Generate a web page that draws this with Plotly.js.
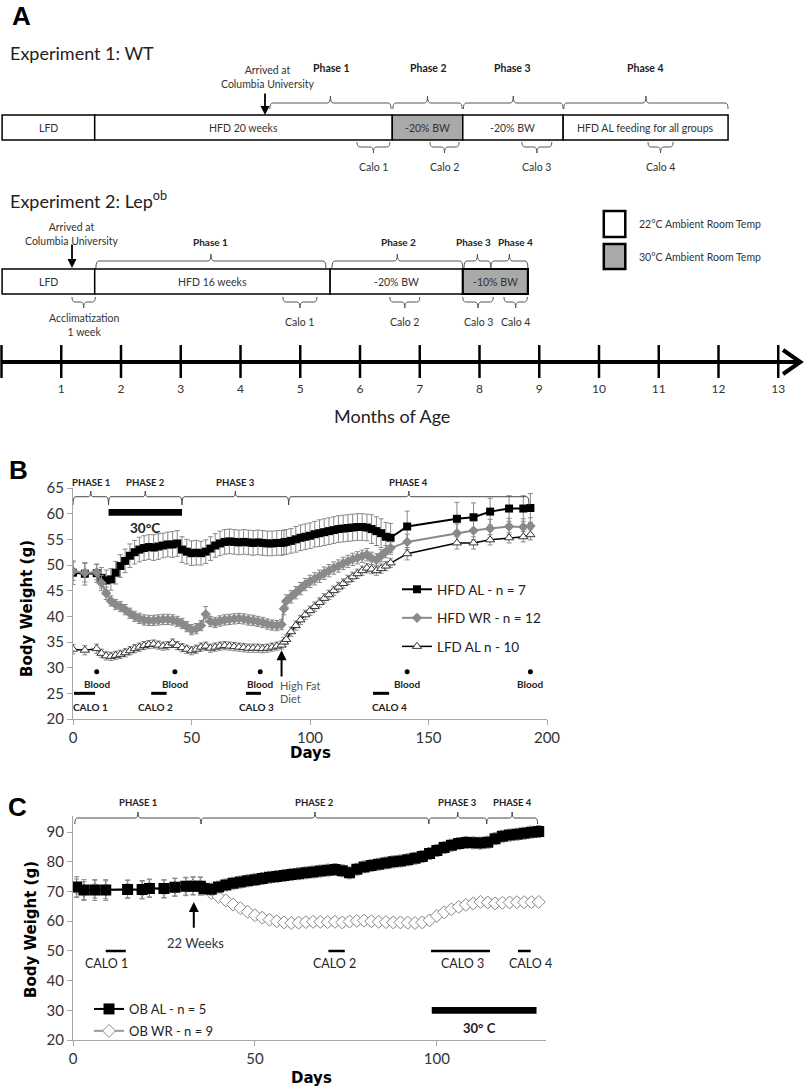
<!DOCTYPE html>
<html><head><meta charset="utf-8">
<script src="https://cdn.plot.ly/plotly-3.0.1.min.js"></script>
<style>html,body{margin:0;padding:0;background:#fff}#chart{width:805px;height:1088px}</style>
</head><body><div id="chart"></div>
<script>
// ===================== DATA =====================
// Panel A timeline (months of age)
const monthTicks  = [0,1,2,3,4,5,6,7,8,9,10,11,12,13];
const monthLabels = ['','1','2','3','4','5','6','7','8','9','10','11','12','13'];

const exp1Start  = [0.01, 1.56, 6.54, 7.72, 9.40];
const exp1End    = [1.56, 6.54, 7.72, 9.40, 12.16];
const exp1Label  = ['LFD','HFD 20 weeks','-20% BW','-20% BW','HFD AL feeding for all groups'];
const exp1Warm   = [0,0,1,0,0];
const exp1PhStart= [4.49, 6.55, 7.73, 9.41];
const exp1PhEnd  = [6.52, 7.71, 9.40, 12.16];
const exp1PhLabel= ['Phase 1','Phase 2','Phase 3','Phase 4'];
const exp1PhText = [5.53, 7.14, 8.56, 10.77];
const exp1CaStart= [5.95, 7.17, 8.71, 10.82];
const exp1CaEnd  = [6.50, 7.66, 9.21, 11.24];
const exp1CaLabel= ['Calo 1','Calo 2','Calo 3','Calo 4'];
const exp1Arrive = 4.41;

const exp2Start  = [0.01, 1.56, 5.50, 7.72];
const exp2End    = [1.56, 5.50, 7.72, 8.81];
const exp2Label  = ['LFD','HFD 16 weeks','-20% BW','-10% BW'];
const exp2Warm   = [0,0,0,1];
const exp2PhStart= [1.58, 5.53, 7.74, 8.19];
const exp2PhEnd  = [5.43, 7.72, 8.19, 8.81];
const exp2PhLabel= ['Phase 1','Phase 2','Phase 3','Phase 4'];
const exp2PhText = [3.49, 6.64, 7.90, 8.60];
const exp2CaStart= [1.18, 4.71, 6.50, 7.72, 8.41];
const exp2CaEnd  = [1.57, 5.28, 7.00, 8.23, 8.80];
const exp2CaLabel= ['Acclimatization<br>1 week','Calo 1','Calo 2','Calo 3','Calo 4'];
const exp2Arrive = 1.18;

// Panel B (days)
const daysB = [0,5,10,12,14,16,18,20,22,24,26,28,30,32,34,36,38,40,42,44,46,48,50,52,54,56,58,60,62,64,66,68,70,72,74,76,78,80,82,84,86,88,89,90,92,94,96,98,100,102,104,106,108,110,112,114,116,118,120,122,124,126,128,130,132,134,141,162,169,176,184,190,193];
const hfdAL = [48.5,48.3,48.4,
  47.5,47.0,47.2,48.5,49.8,50.8,51.8,52.5,53.0,53.3,
  53.5,53.4,53.6,53.8,54.0,54.0,54.2,53.0,52.6,52.3,
  52.4,52.3,52.6,53.2,53.8,54.2,54.5,54.6,54.5,54.4,
  54.5,54.4,54.3,54.4,54.3,54.2,54.2,54.3,54.3,
  54.4,54.5,54.7,55.0,55.3,55.5,55.7,56.0,56.2,56.4,56.6,56.8,57.0,57.1,57.2,57.3,57.4,57.4,57.3,57.0,56.6,56.2,55.5,55.3,
  57.5,59.0,59.3,60.4,61.0,61.0,61.1];
const hfdALerr = [2.3,2.2,1.8,
  2.0,2.0,2.1,2.2,2.2,2.3,2.3,2.3,2.4,2.4,
  2.4,2.5,2.5,2.4,2.4,2.5,2.5,2.5,2.4,2.4,
  2.4,2.3,2.3,2.3,2.3,2.4,2.4,2.4,2.4,2.4,
  2.4,2.4,2.4,2.4,2.4,2.4,2.4,2.4,2.4,
  2.4,2.4,2.4,2.5,2.5,2.5,2.5,2.5,2.6,2.6,2.6,2.6,2.6,2.6,2.6,2.6,2.6,2.6,2.6,2.8,2.8,2.8,2.8,2.8,
  3.0,3.2,2.8,2.6,2.5,2.5,2.8];
const hfdWR = [48.8,48.5,48.6,
  46.5,44.5,43.0,42.3,41.9,41.3,40.6,40.0,39.6,39.3,
  39.2,39.2,39.3,39.4,39.4,39.3,39.0,38.6,38.0,37.4,
  37.6,38.2,40.4,39.0,38.8,39.1,39.3,39.4,39.5,39.6,
  39.5,39.3,39.2,39.0,38.8,38.5,38.3,38.2,38.4,
  41.5,43.0,43.8,44.6,45.4,46.2,46.8,47.3,47.8,48.4,48.9,49.4,49.8,50.3,50.7,51.1,51.4,51.7,52.0,51.3,51.0,51.8,52.6,53.3,
  54.5,56.2,56.7,57.1,57.5,57.4,57.6];
const hfdWRerr = [1.8,1.8,1.5,
  1.5,1.2,1.0,1.0,1.0,1.0,1.0,1.0,1.0,1.0,
  1.0,1.0,1.0,1.0,1.0,1.0,1.0,1.0,1.0,1.0,
  1.0,1.0,1.5,1.0,1.0,1.0,1.0,1.0,1.0,1.0,
  1.0,1.0,1.0,1.0,1.0,1.0,1.0,1.0,1.0,
  1.2,1.2,1.2,1.2,1.2,1.2,1.2,1.2,1.2,1.2,1.2,1.2,1.2,1.2,1.2,1.2,1.2,1.2,1.2,1.2,1.2,1.2,1.2,1.2,
  1.5,1.8,1.8,1.8,1.6,1.6,1.6];
const lfdAL = [33.6,33.4,33.7,
  32.8,32.3,32.2,32.4,32.6,32.9,33.3,33.7,34.0,34.3,
  34.5,34.6,34.4,34.2,34.3,34.8,34.3,33.9,33.6,33.3,
  33.6,34.0,34.2,33.8,34.0,34.2,34.3,34.2,34.1,34.0,
  33.9,33.8,33.8,33.8,33.7,33.8,34.0,34.2,34.4,
  35.0,35.5,37.0,38.2,39.3,40.3,41.1,41.9,42.7,43.5,44.2,45.0,45.7,46.4,47.1,47.7,48.3,48.9,49.4,49.2,48.9,49.3,49.8,50.4,
  52.2,54.3,54.3,54.9,55.3,55.5,55.9];
const lfdALerr = [0.9,0.9,0.9,
  0.8,0.8,0.8,0.8,0.8,0.8,0.8,0.8,0.8,0.8,
  0.8,0.8,0.8,0.8,0.8,0.8,0.8,0.8,0.8,0.8,
  0.8,0.8,0.8,0.8,0.8,0.8,0.8,0.8,0.8,0.8,
  0.8,0.8,0.8,0.8,0.8,0.8,0.8,0.8,0.8,
  0.9,0.9,0.9,0.9,0.9,0.9,0.9,0.9,0.9,0.9,0.9,0.9,0.9,0.9,0.9,0.9,0.9,0.9,0.9,0.9,0.9,0.9,0.9,0.9,
  1.2,1.2,1.2,1.0,1.0,1.0,1.0];
const phaseBBounds = [0, 15, 46, 91, 192.4];
const phaseBLabels = ['PHASE 1','PHASE 2','PHASE 3','PHASE 4'];
const warmB = [15, 46];
const bloodDays = [10, 43, 79, 141, 193];
const bloodY    = [29.2, 29.2, 29.2, 29.2, 29.2];
const caloBStart = [0.4, 33, 73, 126.6];
const caloBEnd   = [9.3, 39.5, 79.3, 133.4];
const caloBText  = [7.4, 34.8, 77.6, 133.5];
const caloBLabel = ['CALO 1','CALO 2','CALO 3','CALO 4'];
const hfdSwitchDay = 88;

// Panel C (days)
const daysC = [1,3,6,9,15,19,21,25,28,31,33,35,36,38,40,42,44,46,48,50,52,54,56,58,60,62,64,66,68,70,72,74,76,78,80,82,84,86,88,90,92,94,96,98,100,102,104,106,108,110,112,114,116,118,120,122,124,126,128];
const obAL = [71.5,70.5,70.5,70.5,70.7,70.7,71.0,71.0,71.4,71.8,71.8,71.8,
  71.0,70.8,71.5,72.2,72.8,73.2,73.6,74.0,74.4,74.8,
  75.1,75.4,75.7,76.0,76.3,76.6,76.9,77.2,77.4,77.0,
  76.3,77.5,78.3,78.8,79.2,79.6,80.0,80.3,80.7,81.2,
  81.8,82.8,83.8,84.8,85.6,86.2,86.5,86.4,86.3,86.6,
  87.8,88.6,89.0,89.3,89.6,90.0,90.2];
const obALerr = [3.5,3.5,3.5,3.5,3.0,3.0,3.0,3.0,3.0,3.0,3.0,3.0,
  2.0,2.0,2.0,2.0,2.0,2.0,2.0,2.0,2.0,2.0,
  2.0,2.0,2.0,2.0,2.0,2.0,2.0,2.0,2.0,2.0,
  2.0,2.0,2.0,2.0,2.0,2.0,2.0,2.0,2.0,2.0,
  2.0,2.0,2.0,2.0,2.0,2.0,2.0,2.0,2.0,2.0,
  2.0,2.0,2.0,2.0,2.0,2.0,2.0];
const obWR = [71.2,70.3,70.8,70.6,70.9,70.5,71.2,70.8,71.5,71.6,72.0,71.9,
  70.8,69.5,68.2,67.0,65.6,64.4,63.2,62.0,61.2,60.5,
  60.0,59.6,59.4,59.5,59.7,59.8,59.8,59.7,59.8,59.6,
  59.9,60.1,60.2,60.0,59.8,59.7,59.6,59.6,59.5,59.4,
  59.6,60.3,61.8,63.0,64.0,64.8,65.5,66.0,66.5,66.3,
  66.0,66.2,66.3,66.4,66.4,66.4,66.5];
const obWRerr = [3.0,3.0,3.0,3.0,3.0,3.0,3.0,3.0,3.0,3.0,3.0,3.0,
  1.5,1.5,1.5,1.5,1.5,1.5,1.5,1.5,1.5,1.5,
  1.5,1.5,1.5,1.5,1.5,1.5,1.5,1.5,1.5,1.5,
  1.5,1.5,1.5,1.5,1.5,1.5,1.5,1.5,1.5,1.5,
  1.5,1.5,1.5,1.5,1.5,1.5,1.5,1.5,1.5,1.5,
  1.5,1.5,1.5,1.5,1.5,1.5,1.5];
const phaseCBounds = [0.5, 35.2, 97.8, 113.7, 127.7];
const phaseCLabels = ['PHASE 1','PHASE 2','PHASE 3','PHASE 4'];
const warmC = [98.6, 127.4];
const caloCStart = [9, 70.2, 98.4, 122.3];
const caloCEnd   = [14.5, 74.7, 114.6, 125.8];
const caloCText  = [9.3, 72, 107, 125.8];
const caloCLabel = ['CALO 1','CALO 2','CALO 3','CALO 4'];
const weeks22Day = 33.2;

// ===================== LAYOUT =====================
const W = 805, H = 1088;
const LATO = 'Lato, "Open Sans", sans-serif';
const DJV = '"DejaVu Sans", Verdana, sans-serif';
const ARL = '"Liberation Sans", Arial, sans-serif';
const py = p => 1 - p / H;            // pixel row -> paper
const mL = -1.5 / 59.75, mR = (W - 1.5) / 59.75;

const shapes = [], ann = [];
function txt(text, x, y, xref, yref, size, o) {
  o = o || {};
  ann.push({text, x, y, xref, yref, showarrow: false, textangle: o.angle || 0,
    font: {family: o.family || LATO, size, color: o.color || '#222'},
    xanchor: o.xanchor || 'center', yanchor: o.yanchor || 'middle', align: o.align || 'center'});
}
function brace(xref, yref, x0, x1, yl, yEnd, yTip, e, color, width) {
  const m = (x0 + x1) / 2;
  const p = `M${x0},${yEnd} Q${x0},${yl} ${x0 + e},${yl} L${m - e},${yl} Q${m},${yl} ${m},${yTip} ` +
            `Q${m},${yl} ${m + e},${yl} L${x1 - e},${yl} Q${x1},${yl} ${x1},${yEnd}`;
  shapes.push({type: 'path', xref, yref, path: p, line: {color, width}});
}
function arrow(xref, yref, x, yTip, yTail, w) {
  ann.push({text: '', x, y: yTip, ax: x, ay: yTail, xref, yref, axref: xref, ayref: yref,
    showarrow: true, arrowhead: 2, arrowsize: 1, arrowwidth: w, arrowcolor: '#000', standoff: 0});
}

// ---- Panel A ----
txt('<b>A</b>', 10 / W, 16, 'paper', 'y3', 26, {family: ARL, color: '#000', xanchor: 'left'});
txt('Experiment 1: WT', 8 / W, 53, 'paper', 'y3', 18, {xanchor: 'left'});
txt('Experiment 2: Lep<sup>ob</sup>', 8 / W, 200, 'paper', 'y3', 18, {xanchor: 'left'});

function drawExp(starts, ends, labels, warm, yTop, yBot, gw) {
  starts.forEach((s, i) => {
    shapes.push({type: 'rect', xref: 'x3', yref: 'y3', x0: s, x1: ends[i], y0: yTop, y1: yBot,
      fillcolor: warm[i] ? '#a9a9a9' : '#fff', line: {color: '#000', width: warm[i] ? gw : 1.5}});
    txt(labels[i], (s + ends[i]) / 2, (yTop + yBot) / 2, 'x3', 'y3', 10.5, {color: '#333'});
  });
}
drawExp(exp1Start, exp1End, exp1Label, exp1Warm, 115, 140, 1.5);
drawExp(exp2Start, exp2End, exp2Label, exp2Warm, 269, 294, 2.2);

exp1PhStart.forEach((s, i) => {
  brace('x3', 'y3', s, exp1PhEnd[i], 103, 109, 96, 0.05, '#555', 1);
  txt('<b>' + exp1PhLabel[i] + '</b>', exp1PhText[i], 68, 'x3', 'y3', 10.5);
});
exp2PhStart.forEach((s, i) => {
  brace('x3', 'y3', s, exp2PhEnd[i], 261, 268, 254, 0.05, '#555', 1);
  txt('<b>' + exp2PhLabel[i] + '</b>', exp2PhText[i], 242, 'x3', 'y3', 10);
});
exp1CaStart.forEach((s, i) => {
  brace('x3', 'y3', s, exp1CaEnd[i], 147, 142, 153, 0.05, '#555', 1);
  txt(exp1CaLabel[i], (s + exp1CaEnd[i]) / 2, 167, 'x3', 'y3', 10.5, {color: '#333'});
});
exp2CaStart.forEach((s, i) => {
  brace('x3', 'y3', s, exp2CaEnd[i], 302, 297, 308, 0.05, '#555', 1);
  txt(exp2CaLabel[i], (s + exp2CaEnd[i]) / 2, i === 0 ? 324.5 : 322, 'x3', 'y3', 10.5, {color: '#333'});
});
arrow('x3', 'y3', exp1Arrive, 115, 92, 1.8);
txt('Arrived at<br>Columbia University', exp1Arrive + 0.05, 76.5, 'x3', 'y3', 10.5, {color: '#333'});
arrow('x3', 'y3', exp2Arrive, 268, 243, 1.8);
txt('Arrived at<br>Columbia University', exp2Arrive, 233.5, 'x3', 'y3', 10.5, {color: '#333'});

// legend boxes (ambient temperature)
shapes.push({type: 'rect', xref: 'x3', yref: 'y3', x0: 10.08, x1: 10.44, y0: 211, y1: 237, fillcolor: '#fff', line: {color: '#000', width: 2.5}});
shapes.push({type: 'rect', xref: 'x3', yref: 'y3', x0: 10.08, x1: 10.44, y0: 244, y1: 269, fillcolor: '#a9a9a9', line: {color: '#000', width: 2.5}});
txt('22°C Ambient Room Temp', 10.64, 224, 'x3', 'y3', 10.5, {color: '#333', xanchor: 'left'});
txt('30°C Ambient Room Temp', 10.64, 257, 'x3', 'y3', 10.5, {color: '#333', xanchor: 'left'});

// timeline
shapes.push({type: 'line', xref: 'x3', yref: 'y3', x0: 0, x1: 13.33, y0: 362, y1: 362, line: {color: '#000', width: 4}});
shapes.push({type: 'path', xref: 'x3', yref: 'y3', path: 'M13.08,350 L13.37,362 L13.08,374', line: {color: '#000', width: 4}});
txt('Months of Age', 6.54, py(416), 'x3', 'paper', 18, {color: '#222'});

// ---- Panel B ----
txt('<b>B</b>', 7 / W, py(470), 'paper', 'paper', 26, {family: ARL, color: '#000', xanchor: 'left'});
for (let i = 0; i < phaseBLabels.length; i++) {
  brace('x', 'y', phaseBBounds[i], phaseBBounds[i + 1], 63.3, 61.7, 64.4, 1.0, '#444', 1);
  txt('<b>' + phaseBLabels[i] + '</b>', (phaseBBounds[i] + phaseBBounds[i + 1]) / 2, py(483), 'x', 'paper', 9.5);
}
shapes.push({type: 'rect', xref: 'x', yref: 'y', x0: warmB[0], x1: warmB[1], y0: 59.6, y1: 60.9, fillcolor: '#000', line: {width: 0}});
txt('<b>30°C</b>', (warmB[0] + warmB[1]) / 2, 57.2, 'x', 'y', 13.5);
bloodDays.forEach(d => txt('<b>Blood</b>', d, 26.8, 'x', 'y', 10));
caloBStart.forEach((s, i) => {
  shapes.push({type: 'line', xref: 'x', yref: 'y', x0: s, x1: caloBEnd[i], y0: 25, y1: 25, line: {color: '#000', width: 3}});
  txt('<b>' + caloBLabel[i] + '</b>', caloBText[i], 22.3, 'x', 'y', 10);
});
arrow('x', 'y', hfdSwitchDay, 33.4, 28.0, 2);
txt('High Fat', hfdSwitchDay - 1.4, 26.6, 'x', 'y', 11, {color: '#555', xanchor: 'left'});
txt('Diet', hfdSwitchDay - 1.4, 23.9, 'x', 'y', 11, {color: '#555', xanchor: 'left'});
txt('<b>Body Weight (g)</b>', 27 / W, py(609), 'paper', 'paper', 15, {family: DJV, color: '#000', angle: -90});
txt('<b>Days</b>', 310 / W, py(753), 'paper', 'paper', 15, {family: DJV, color: '#000'});

// ---- Panel C ----
txt('<b>C</b>', 6 / W, py(807), 'paper', 'paper', 26, {family: ARL, color: '#000', xanchor: 'left'});
for (let i = 0; i < phaseCLabels.length; i++) {
  brace('x2', 'paper', phaseCBounds[i], phaseCBounds[i + 1], py(818), py(824), py(812), 0.7, '#444', 1);
  txt('<b>' + phaseCLabels[i] + '</b>', (phaseCBounds[i] + phaseCBounds[i + 1]) / 2, py(802), 'x2', 'paper', 9.5);
}
shapes.push({type: 'rect', xref: 'x2', yref: 'y2', x0: warmC[0], x1: warmC[1], y0: 28.8, y1: 31.1, fillcolor: '#000', line: {width: 0}});
txt('<b>30° C</b>', 111.6, 24.0, 'x2', 'y2', 13);
caloCStart.forEach((s, i) => {
  shapes.push({type: 'line', xref: 'x2', yref: 'y2', x0: s, x1: caloCEnd[i], y0: 50, y1: 50, line: {color: '#000', width: 2.5}});
  txt(caloCLabel[i], caloCText[i], 45.9, 'x2', 'y2', 12.5, {color: '#222'});
});
arrow('x2', 'y2', weeks22Day, 66.5, 57.3, 2);
txt('22 Weeks', weeks22Day + 0.6, 52.7, 'x2', 'y2', 13, {color: '#333'});
txt('<b>Body Weight (g)</b>', 31 / W, py(930), 'paper', 'paper', 15, {family: DJV, color: '#000', angle: -90});
txt('<b>Days</b>', 311 / W, py(1078), 'paper', 'paper', 15, {family: DJV, color: '#000'});

// ===================== TRACES =====================
const eb = (arr) => ({type: 'data', array: arr, color: '#888', thickness: 1, width: 2.5});
const traces = [
  {x: monthTicks, y: monthTicks.map(() => 361.5), xaxis: 'x3', yaxis: 'y3', type: 'scatter', mode: 'markers',
   marker: {symbol: 'line-ns', size: 23.5, color: '#000', line: {color: '#000', width: 2.5}}, showlegend: false, hoverinfo: 'skip'},

  {x: daysB, y: hfdAL, error_y: eb(hfdALerr), name: 'HFD AL - n = 7', type: 'scatter', mode: 'lines+markers',
   line: {color: '#000', width: 2}, marker: {symbol: 'square', size: 8, color: '#000'},
   xaxis: 'x', yaxis: 'y', legend: 'legend', legendgroup: 'a'},
  {x: daysB, y: hfdWR, error_y: eb(hfdWRerr), name: 'HFD WR - n = 12', type: 'scatter', mode: 'lines+markers',
   line: {color: '#8a8a8a', width: 2}, marker: {symbol: 'diamond', size: 8, color: '#8a8a8a'},
   xaxis: 'x', yaxis: 'y', legend: 'legend', legendgroup: 'b'},
  {x: daysB, y: lfdAL, error_y: eb(lfdALerr), name: 'LFD AL n - 10', type: 'scatter', mode: 'lines+markers',
   line: {color: '#000', width: 1.5}, marker: {symbol: 'triangle-up', size: 8, color: '#fff', line: {color: '#333', width: 1}},
   xaxis: 'x', yaxis: 'y', legend: 'legend', legendgroup: 'c'},
  {x: bloodDays, y: bloodY, type: 'scatter', mode: 'markers', marker: {size: 5, color: '#000'},
   xaxis: 'x', yaxis: 'y', showlegend: false, hoverinfo: 'skip'},

  {x: daysC, y: obWR, error_y: eb(obWRerr), name: 'OB WR - n = 9', type: 'scatter', mode: 'lines+markers',
   line: {color: '#9a9a9a', width: 2}, marker: {symbol: 'diamond', size: 10, color: '#fff', line: {color: '#8a8a8a', width: 1}},
   xaxis: 'x2', yaxis: 'y2', legend: 'legend2', legendgroup: 'e', legendrank: 2},
  {x: daysC, y: obAL, error_y: eb(obALerr), name: 'OB AL - n = 5', type: 'scatter', mode: 'lines+markers',
   line: {color: '#000', width: 2}, marker: {symbol: 'square', size: 11, color: '#000'},
   xaxis: 'x2', yaxis: 'y2', legend: 'legend2', legendgroup: 'd', legendrank: 1}
];

const axLine = {showline: true, linecolor: '#a6a6a6', linewidth: 1, ticks: 'outside', ticklen: 5, tickcolor: '#a6a6a6',
  showgrid: false, zeroline: false, fixedrange: true, tickfont: {family: LATO, size: 15, color: '#333'}};

const layout = {
  width: W, height: H, margin: {l: 0, r: 0, t: 0, b: 0}, paper_bgcolor: '#fff', plot_bgcolor: 'rgba(0,0,0,0)',
  showlegend: true,
  xaxis: Object.assign({}, axLine, {domain: [73 / W, 547 / W], range: [0, 200], tickvals: [0, 50, 100, 150, 200], anchor: 'y'}),
  yaxis: Object.assign({}, axLine, {domain: [py(719), py(488)], range: [20, 65], tickvals: [20, 25, 30, 35, 40, 45, 50, 55, 60, 65], anchor: 'x'}),
  xaxis2: Object.assign({}, axLine, {domain: [73 / W, 546 / W], range: [0, 130], tickvals: [0, 50, 100], anchor: 'y2'}),
  yaxis2: Object.assign({}, axLine, {domain: [py(1040), py(815.8)], range: [20, 95.5], tickvals: [20, 30, 40, 50, 60, 70, 80, 90], anchor: 'x2'}),
  xaxis3: {domain: [0, 1], range: [mL, mR], anchor: 'y3', showline: false, showgrid: false, zeroline: false, ticks: '',
    tickvals: monthTicks, ticktext: monthLabels, tickfont: {family: LATO, size: 12, color: '#333'}, fixedrange: true},
  yaxis3: {domain: [py(380), 1], range: [380, 0], anchor: 'x3', visible: false, fixedrange: true},
  legend: {x: 397 / W, y: py(574), xanchor: 'left', yanchor: 'top', bgcolor: 'rgba(0,0,0,0)', traceorder: 'grouped',
    tracegroupgap: 8, font: {family: LATO, size: 13.5, color: '#222'}},
  legend2: {x: 89 / W, y: py(994), xanchor: 'left', yanchor: 'top', bgcolor: 'rgba(0,0,0,0)', traceorder: 'grouped',
    tracegroupgap: 2, font: {family: LATO, size: 13, color: '#222'}},
  shapes, annotations: ann
};

Plotly.newPlot('chart', traces, layout, {staticPlot: true, displayModeBar: false});
</script>
</body></html>
